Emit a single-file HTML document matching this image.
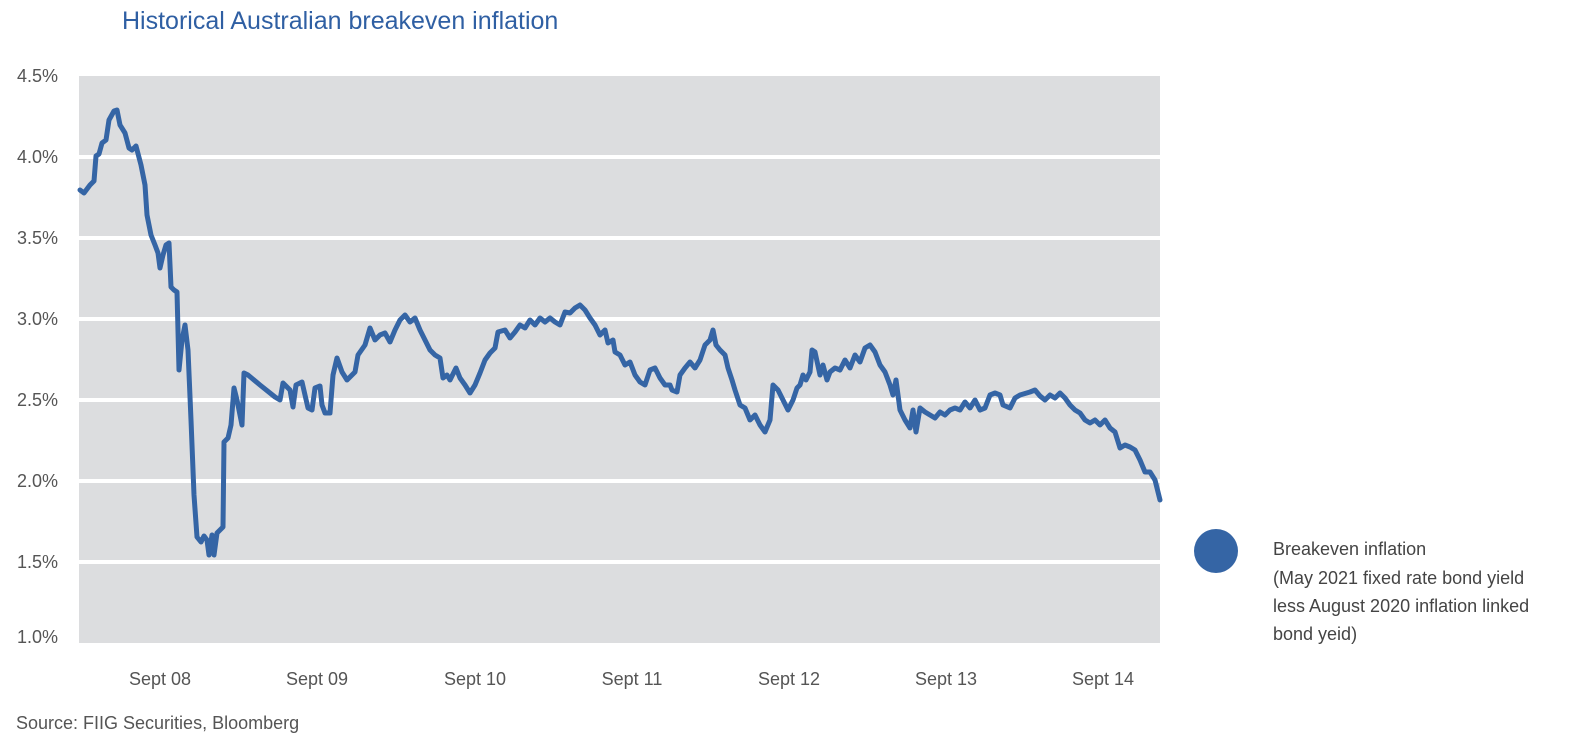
<!DOCTYPE html>
<html><head><meta charset="utf-8"><style>
body{margin:0;background:#fff;width:1585px;height:750px;overflow:hidden;font-family:"Liberation Sans",sans-serif}
</style></head><body>
<svg width="1585" height="750" xmlns="http://www.w3.org/2000/svg" font-family="Liberation Sans, sans-serif">
<text x="122" y="29" font-size="25" fill="#2f5fa3">Historical Australian breakeven inflation</text>
<rect x="79" y="76" width="1081" height="567" fill="#dcdddf"/>
<g stroke="#fff" stroke-width="4">
<line x1="79" x2="1160" y1="157" y2="157"/><line x1="79" x2="1160" y1="238" y2="238"/>
<line x1="79" x2="1160" y1="319" y2="319"/><line x1="79" x2="1160" y1="400" y2="400"/>
<line x1="79" x2="1160" y1="481" y2="481"/><line x1="79" x2="1160" y1="562" y2="562"/>
</g>
<g font-size="18" fill="#555" text-anchor="end">
<text x="58" y="82">4.5%</text><text x="58" y="163">4.0%</text><text x="58" y="244">3.5%</text>
<text x="58" y="325">3.0%</text><text x="58" y="406">2.5%</text><text x="58" y="487">2.0%</text>
<text x="58" y="568">1.5%</text><text x="58" y="643">1.0%</text>
</g>
<g font-size="18" fill="#555" text-anchor="middle">
<text x="160" y="685">Sept 08</text><text x="317" y="685">Sept 09</text><text x="475" y="685">Sept 10</text>
<text x="632" y="685">Sept 11</text><text x="789" y="685">Sept 12</text><text x="946" y="685">Sept 13</text>
<text x="1103" y="685">Sept 14</text>
</g>
<polyline fill="none" stroke="#3565a5" stroke-width="5" stroke-linejoin="round" stroke-linecap="round" points="80,190 84,193 90,185 94,181 96,156 99,154 102,143 106,140 109,120 114,111 117,110 120,125 125,133 129,148 132,150 136,146 141,165 145,185 147,215 151,235 155,245 158,253 160,268 163,255 166,245 169,243 171,287 174,290 177,292 179,370 182,340 185,325 188,350 191,420 194,495 197,537 201,542 204,536 207,540 209,555 212,535 214,555 217,533 220,530 223,527 224,442 228,438 231,425 234,388 237,400 239,410 242,425 244,373 248,375 260,385 275,397 280,400 283,383 286,386 290,390 293,407 296,385 302,382 305,395 308,408 312,410 315,388 320,386 322,405 325,413 330,413 333,375 337,358 342,372 347,380 355,372 358,355 365,345 370,328 375,340 380,335 385,333 390,342 395,330 400,320 405,315 410,322 415,318 420,330 425,340 430,350 435,355 440,358 443,378 447,375 450,380 456,368 460,378 465,385 470,393 475,385 480,373 485,360 490,353 495,348 498,332 505,330 510,338 515,332 520,325 525,328 530,320 535,325 540,318 545,322 550,318 555,322 560,325 565,312 570,313 575,308 580,305 585,310 590,318 595,325 600,335 605,330 608,343 613,340 615,352 620,355 625,365 630,362 635,375 640,382 645,385 650,370 655,368 660,378 665,385 670,385 672,390 677,392 680,375 685,368 690,362 695,368 700,360 705,345 710,340 713,330 716,345 720,350 725,355 728,368 732,380 735,390 740,405 745,408 750,420 755,415 760,425 765,432 770,420 773,385 778,390 783,400 788,410 793,400 797,388 800,385 803,375 806,380 810,372 812,350 815,352 820,375 823,365 827,380 830,372 835,368 840,370 845,360 850,368 855,355 860,362 865,348 870,345 875,352 880,365 885,372 890,385 893,395 896,380 900,410 905,420 910,428 913,410 916,432 920,408 925,412 930,415 935,418 940,412 945,415 950,410 955,408 960,410 965,402 970,408 975,400 980,410 985,408 990,395 995,393 1000,395 1003,405 1010,408 1015,398 1020,395 1030,392 1035,390 1040,396 1045,400 1050,395 1055,398 1060,393 1065,398 1070,405 1075,410 1080,413 1085,420 1090,423 1095,420 1100,425 1105,420 1110,428 1115,432 1120,448 1125,445 1130,447 1135,450 1140,460 1145,472 1150,472 1155,480 1160,500"/>
<ellipse cx="1216" cy="551" rx="22" ry="22" fill="#3565a5"/>
<g font-size="18" fill="#444">
<text x="1273" y="555">Breakeven inflation</text>
<text x="1273" y="584">(May 2021 fixed rate bond yield</text>
<text x="1273" y="612">less August 2020 inflation linked</text>
<text x="1273" y="640">bond yeid)</text>
</g>
<text x="16" y="729" font-size="18" fill="#555">Source: FIIG Securities, Bloomberg</text>
</svg>
</body></html>
